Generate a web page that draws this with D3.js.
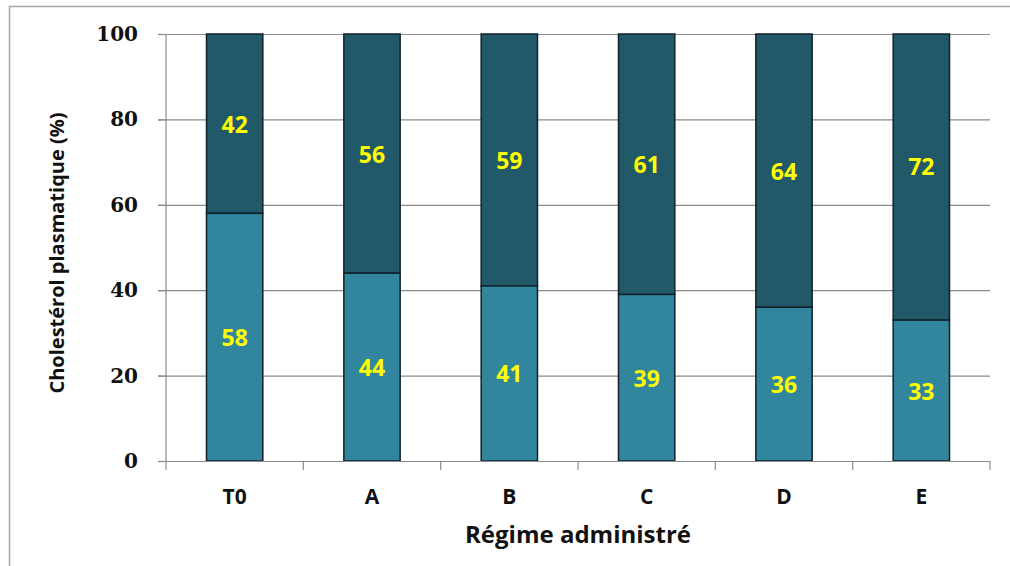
<!DOCTYPE html>
<html>
<head>
<meta charset="utf-8">
<script src="https://cdn.jsdelivr.net/npm/d3@7"></script>
<style>
  body { margin: 0; background: #fff; }
</style>
</head>
<body>
<div id="chart"></div>
<script>
// chart data
const categories = ["T0", "A", "B", "C", "D", "E"];
const lowValues = [58, 44, 41, 39, 36, 33];   // bottom segment
const highValues = [42, 56, 59, 61, 64, 72];  // top segment
const yTicks = [0, 20, 40, 60, 80, 100];

const W = 1010, H = 566;
const margin = {top: 34, right: 20, bottom: 105, left: 166};
const width = 990 - margin.left;
const height = 461 - margin.top;

const svg = d3.select("#chart")
    .append("svg")
    .attr("width", W)
    .attr("height", H);

// outer chart border
svg.append("rect")
    .attr("x", 9.5).attr("y", 6.5)
    .attr("width", W + 20).attr("height", H + 20)
    .attr("fill", "none")
    .attr("stroke", "#a6a6a6")
    .attr("stroke-width", 1.5);

const g = svg.append("g")
    .attr("transform", `translate(${margin.left}, ${margin.top})`);

const x = d3.scaleBand()
    .domain(categories)
    .range([0, width])
    .paddingInner(0.59)
    .paddingOuter(0.295);

const y = d3.scaleLinear()
    .domain([0, 100])
    .range([height, 0]);

// gridlines
g.append("g")
    .selectAll("line")
    .data(yTicks.filter(d => d > 0))
    .join("line")
    .attr("x1", -8)
    .attr("x2", width)
    .attr("y1", d => y(d) + 0.5)
    .attr("y2", d => y(d) + 0.5)
    .attr("stroke", "#8c8c8c")
    .attr("stroke-width", 1.2);

// stacked bars (clipped to 100 like the original)
const rows = categories.map((c, i) => ({cat: c, low: lowValues[i], high: highValues[i]}));

const bars = g.append("g")
    .selectAll("g")
    .data(rows)
    .join("g");

bars.append("rect")
    .attr("x", d => x(d.cat))
    .attr("width", x.bandwidth())
    .attr("y", d => y(Math.min(100, d.low + d.high)))
    .attr("height", d => y(d.low) - y(Math.min(100, d.low + d.high)))
    .attr("fill", "#215968")
    .attr("stroke", "#10212b")
    .attr("stroke-width", 1.5);

bars.append("rect")
    .attr("x", d => x(d.cat))
    .attr("width", x.bandwidth())
    .attr("y", d => y(d.low))
    .attr("height", d => y(0) - y(d.low))
    .attr("fill", "#31859c")
    .attr("stroke", "#10212b")
    .attr("stroke-width", 1.5);

// value labels, centred on the unclipped segment
const labelStyle = sel => sel
    .attr("text-anchor", "middle")
    .attr("dominant-baseline", "central")
    .attr("font-family", "'Open Sans', sans-serif")
    .attr("font-weight", "bold")
    .attr("font-size", "23px")
    .attr("fill", "#ffff00");

bars.append("text")
    .attr("x", d => x(d.cat) + x.bandwidth() / 2)
    .attr("y", d => y(d.low / 2))
    .text(d => d.low)
    .call(labelStyle);

bars.append("text")
    .attr("x", d => x(d.cat) + x.bandwidth() / 2)
    .attr("y", d => y(d.low + d.high / 2))
    .text(d => d.high)
    .call(labelStyle);

// y axis
const yAxis = g.append("g")
    .call(d3.axisLeft(y).tickValues(yTicks).tickSize(8).tickPadding(20));
yAxis.select(".domain").attr("stroke", "#8c8c8c").attr("stroke-width", 1.2)
    .attr("d", `M0,${height}V0`);
yAxis.selectAll(".tick line").attr("stroke", "#8c8c8c").attr("stroke-width", 1.2);
yAxis.selectAll(".tick text")
    .attr("font-family", "'DejaVu Serif', serif")
    .attr("font-weight", "bold")
    .attr("font-size", "20px")
    .attr("fill", "#111");

// x axis, ticks at band edges
const xAxis = g.append("g")
    .attr("transform", `translate(0, ${height})`);
xAxis.append("line")
    .attr("x1", 0).attr("x2", width)
    .attr("y1", 0.5).attr("y2", 0.5)
    .attr("stroke", "#8c8c8c").attr("stroke-width", 1.2);
const edges = d3.range(categories.length + 1).map(i => i * width / categories.length);
xAxis.selectAll(".edge")
    .data(edges)
    .join("line")
    .attr("class", "edge")
    .attr("x1", d => d).attr("x2", d => d)
    .attr("y1", 0).attr("y2", 9)
    .attr("stroke", "#8c8c8c").attr("stroke-width", 1.2);
xAxis.selectAll(".cat")
    .data(categories)
    .join("text")
    .attr("class", "cat")
    .attr("x", d => x(d) + x.bandwidth() / 2)
    .attr("y", 43)
    .attr("text-anchor", "middle")
    .attr("font-family", "'Open Sans', sans-serif")
    .attr("font-weight", "bold")
    .attr("font-size", "21px")
    .attr("fill", "#111")
    .text(d => d);

// axis titles
svg.append("text")
    .attr("x", 578)
    .attr("y", 543)
    .attr("text-anchor", "middle")
    .attr("font-family", "'Open Sans', sans-serif")
    .attr("font-weight", "bold")
    .attr("font-size", "24px")
    .attr("fill", "#111")
    .text("Régime administré");

svg.append("text")
    .attr("transform", "translate(64, 253) rotate(-90)")
    .attr("text-anchor", "middle")
    .attr("font-family", "'Open Sans', sans-serif")
    .attr("font-weight", "bold")
    .attr("font-size", "20px")
    .attr("fill", "#111")
    .text("Cholestérol plasmatique (%)");
</script>
</body>
</html>
